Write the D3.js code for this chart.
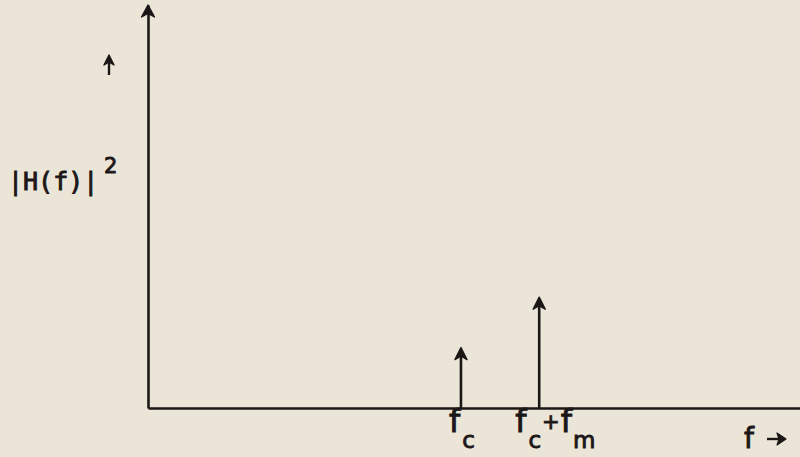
<!DOCTYPE html>
<html lang="en">
<head>
    <meta charset="utf-8">
    <title>Power spectrum |H(f)|^2</title>
    <script src="https://d3js.org/d3.v7.min.js"></script>
    <style>
        body {
            margin: 0;
            background-color: #ebe5d8;
        }
        svg {
            display: block;
        }
        .lbl {
            fill: #1c1717;
            stroke: #1c1717;
            stroke-width: 0.9;
            font-family: "DejaVu Sans", sans-serif;
        }
        .mono {
            font-family: "DejaVu Sans Mono", monospace;
        }
        .axis path {
            stroke: #1c1717;
            stroke-width: 2.6;
        }
    </style>
</head>
<body>
    <svg id="chart" width="800" height="457"></svg>

    <script>
        // impulse frequencies (arbitrary units) and their heights
        const impulseFreq = [4.8, 6.0];
        const impulsePower = [1.5, 2.75];
        const freqBase = ["f", "f"];
        const freqSub = ["c", "c"];
        const freqExtra = ["", "+f"];
        const freqExtraSub = ["", "m"];

        const ink = "#1c1717";
        const svg = d3.select("#chart");

        const x = d3.scaleLinear().domain([0, 10]).range([148, 800]);
        const y = d3.scaleLinear().domain([0, 10]).range([408, 5]);

        // notched arrow head pointing up, tip at (cx, cy)
        function arrowHead(g, cx, cy, w, h) {
            g.append("path")
                .attr("d", `M${cx},${cy} L${cx - w / 2},${cy + h} L${cx},${cy + h * 0.7} L${cx + w / 2},${cy + h} Z`)
                .attr("fill", ink)
                .attr("stroke", ink)
                .attr("stroke-width", 1.4)
                .attr("stroke-linejoin", "round");
        }

        // axes without ticks
        svg.append("g")
            .attr("class", "axis")
            .attr("transform", `translate(0,${y(0)})`)
            .call(d3.axisBottom(x).tickValues([]).tickSizeOuter(0));

        svg.append("g")
            .attr("class", "axis")
            .attr("transform", `translate(${x(0)},0)`)
            .call(d3.axisLeft(y).tickValues([]).tickSizeOuter(0));

        arrowHead(svg, x(0), y(10), 13, 12);

        // impulses
        const imp = svg.append("g");
        impulseFreq.forEach((f, i) => {
            imp.append("line")
                .attr("x1", x(f)).attr("x2", x(f))
                .attr("y1", y(0)).attr("y2", y(impulsePower[i]) + 4)
                .attr("stroke", ink)
                .attr("stroke-width", 2.6);
            arrowHead(imp, x(f), y(impulsePower[i]), 12, 12);
        });

        // frequency labels
        impulseFreq.forEach((f, i) => {
            const t = svg.append("text")
                .attr("class", "lbl")
                .attr("x", x(f) - (freqExtra[i] ? 24 : 12))
                .attr("y", y(0) + 24);
            t.append("tspan").attr("font-size", 32).text(freqBase[i]);
            t.append("tspan").attr("font-size", 23).attr("dx", 2).attr("dy", 16).text(freqSub[i]);
            if (freqExtra[i]) {
                t.append("tspan").attr("font-size", 21).attr("dx", 1).attr("dy", -19).text(freqExtra[i][0]);
                t.append("tspan").attr("font-size", 32).attr("dx", 1).attr("dy", 3).text(freqExtra[i].slice(1));
                t.append("tspan").attr("font-size", 23).attr("dx", 1).attr("dy", 16).text(freqExtraSub[i]);
            }
        });

        // f ->
        svg.append("text")
            .attr("class", "lbl")
            .attr("x", 744)
            .attr("y", 448)
            .attr("font-size", 28)
            .text("f");
        svg.append("line")
            .attr("x1", 767).attr("x2", 782)
            .attr("y1", 439).attr("y2", 439)
            .attr("stroke", ink).attr("stroke-width", 2.4);
        svg.append("path")
            .attr("d", "M786,439 L777,433 L779,439 L777,445 Z")
            .attr("fill", ink).attr("stroke", ink).attr("stroke-width", 1.2)
            .attr("stroke-linejoin", "round");

        // y label |H(f)|^2
        svg.append("text")
            .attr("class", "lbl mono")
            .attr("x", 8)
            .attr("y", 190)
            .attr("font-size", 25)
            .text("|H(f)|");
        svg.append("text")
            .attr("class", "lbl")
            .attr("x", 104)
            .attr("y", 173)
            .attr("font-size", 21)
            .text("2");

        // small up arrow above the label
        svg.append("line")
            .attr("x1", 109).attr("x2", 109)
            .attr("y1", 75).attr("y2", 60)
            .attr("stroke", ink).attr("stroke-width", 2.4);
        arrowHead(svg, 109, 55, 10, 10);
    </script>
</body>
</html>
